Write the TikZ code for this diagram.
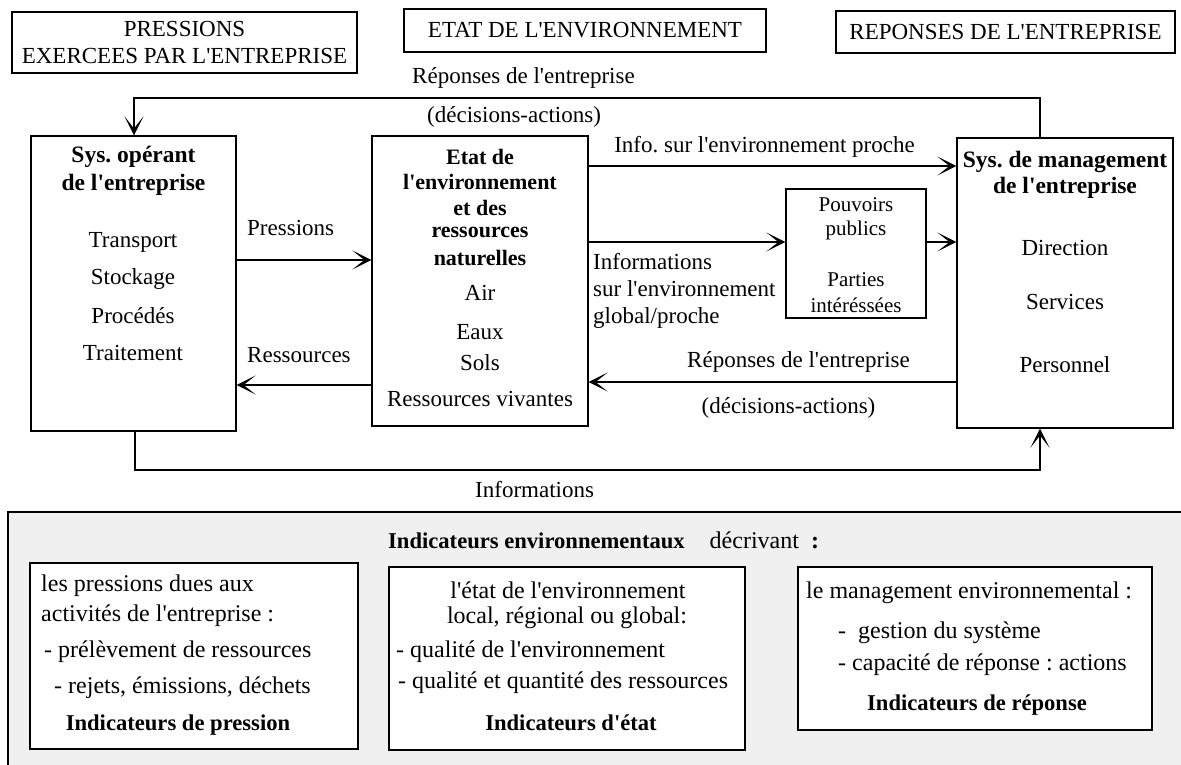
\documentclass[tikz,border=0pt]{standalone}
\usepackage{fontspec}
\setmainfont{Liberation Serif}[Ligatures=TeXOff]
\usetikzlibrary{arrows.meta}
\definecolor{fondgris}{RGB}{240,240,240}
\frenchspacing

\begin{document}
\begin{tikzpicture}[x=1pt, y=-1pt,
  cadre/.style={draw, line width=1.2pt, inner sep=0pt},
  txt/.style={inner sep=0pt, font=\fontsize{23}{27}\selectfont},
  titre/.style={inner sep=0pt, font=\fontsize{23.5}{27}\selectfont\bfseries},
  txtb/.style={inner sep=0pt, font=\fontsize{24}{28}\selectfont},
  titreb/.style={inner sep=0pt, font=\fontsize{22.6}{27}\selectfont\bfseries},
  fleche/.style={line width=1.2pt, -{Stealth[length=19pt, width=19pt, inset=12pt]}},
]
\clip (0,0) rectangle (1181,764);
\draw[line width=1.2pt, fill=fondgris] (8,512) rectangle (1200,790);

\node[cadre, txt, minimum width=345pt, minimum height=61pt, align=center] (pressions) at (184.5,42.5)
  {PRESSIONS\\EXERCEES PAR L'ENTREPRISE};
\node[cadre, txt, minimum width=362pt, minimum height=43pt] (etatenv) at (585,30.5) {ETAT DE L'ENVIRONNEMENT};
\node[cadre, txt, minimum width=339pt, minimum height=42pt] (reponses) at (1005.5,32) {REPONSES DE L'ENTREPRISE};

\node[cadre, minimum width=205pt, minimum height=295pt] (sysop) at (133.5,283.5) {};
\node[cadre, minimum width=216pt, minimum height=290pt] (etat) at (480,281) {};
\node[cadre, minimum width=216pt, minimum height=290pt] (mgmt) at (1065,283) {};
\node[cadre, minimum width=140pt, minimum height=129pt] (pouvoirs) at (856,253.5) {};

\node[titre] (sysopA) at (133.5,157) {Sys. opérant};
\node[titre] (sysopB) at (133.5,185) {de l'entreprise};
\foreach \nom [count=\i] in {Transport,Stockage,Procédés,Traitement}
  \node[txt] (op\i) at (133,205+37*\i) {\nom};

\foreach \nom [count=\i] in {Etat de,l'environnement,et des,ressources,naturelles}
  \node[titre, font=\fontsize{22}{25}\selectfont\bfseries] (etatT\i) at (480,131.75+25.25*\i) {\nom};
\foreach \nom/\y [count=\i] in {Air/293,Eaux/332,Sols/363,Ressources vivantes/399}
  \node[txt] (milieu\i) at (480,\y) {\nom};

\node[titre] (mgmtA) at (1065,162) {Sys. de management};
\node[titre] (mgmtB) at (1065,188) {de l'entreprise};
\foreach \nom/\y [count=\i] in {Direction/248,Services/302,Personnel/365}
  \node[txt] (serv\i) at (1065,\y) {\nom};

\foreach \nom/\y [count=\i] in {Pouvoirs/205,publics/230,Parties/280,intéréssées/305}
  \node[txt, font=\fontsize{21}{25}\selectfont] (acteur\i) at (856,\y) {\nom};

\coordinate (retourG) at (134,98);
\coordinate (retourD) at (1040,98);
\draw[fleche] (mgmt.north -| retourD) -- (retourD) -- (retourG) -- (sysop.north -| retourG);
\coordinate (infoG) at (135,470);
\coordinate (infoD) at (1040,470);
\draw[fleche] (sysop.south -| infoG) -- (infoG) -- (infoD) -- (mgmt.south -| infoD);

\draw[fleche] (sysop.east |- 0,260) -- (etat.west |- 0,260);
\draw[fleche] (etat.west |- 0,385) -- (sysop.east |- 0,385);
\draw[fleche] (etat.east |- 0,166) -- (mgmt.west |- 0,166);
\draw[fleche] (etat.east |- 0,242) -- (pouvoirs.west |- 0,242);
\draw[fleche] (pouvoirs.east |- 0,242) -- (mgmt.west |- 0,242);
\draw[fleche] (mgmt.west |- 0,382) -- (etat.east |- 0,382);

\node[txt, anchor=west] (lrepA) at (412,78) {Réponses de l'entreprise};
\node[txt, anchor=west] (ldecA) at (427,117) {(décisions-actions)};
\node[txt, anchor=west] (lpress) at (247,228) {Pressions};
\node[txt, anchor=west] (lress) at (247,355) {Ressources};
\node[txt] (lproche) at (764.5,147) {Info. sur l'environnement proche};
\node[txt, anchor=west, align=left] (lglobal) at (593,291)
  {Informations\\sur l'environnement\\global/proche};
\node[txt] (lrepB) at (798.5,362) {Réponses de l'entreprise};
\node[txt] (ldecB) at (788.5,408) {(décisions-actions)};
\node[txt, anchor=west] (linfos) at (475,490) {Informations};

\node[txtb, anchor=west] (indic) at (388,540)
  {{\fontsize{22.6}{27}\selectfont\bfseries Indicateurs environnementaux}\hspace{25pt}décrivant\hspace{12pt}{\bfseries :}};

\node[cadre, fill=white, minimum width=328pt, minimum height=186pt] (boiteA) at (194,656) {};
\node[cadre, fill=white, minimum width=356pt, minimum height=183pt] (boiteB) at (567,658.5) {};
\node[cadre, fill=white, minimum width=354pt, minimum height=163pt] (boiteC) at (975,648.5) {};

\foreach \x/\y/\t [count=\i] in {41/586/{les pressions dues aux},41/616/{activités de l'entreprise :},
    44/652/{- prélèvement de ressources},54/688/{- rejets, émissions, déchets}}
  \node[txtb, anchor=west] (pres\i) at (\x,\y) {\t};
\node[titreb] (indicA) at (178,725) {Indicateurs de pression};

\node[txtb] (etatA) at (568,590) {l'état de l'environnement};
\node[txtb] (etatB) at (567,618) {local, régional ou global:};
\node[txtb, anchor=west] (etatC) at (396,652) {- qualité de l'environnement};
\node[txtb, anchor=west] (etatD) at (398,683) {- qualité et quantité des ressources};
\node[titreb] (indicB) at (571,723) {Indicateurs d'état};

\foreach \x/\y/\t [count=\i] in {806/593/{le management environnemental :},838/633/{-~~gestion du système},
    838/665/{- capacité de réponse : actions}}
  \node[txtb, anchor=west] (rep\i) at (\x,\y) {\t};
\node[titreb] (indicC) at (977,705) {Indicateurs de réponse};
\end{tikzpicture}
\end{document}
